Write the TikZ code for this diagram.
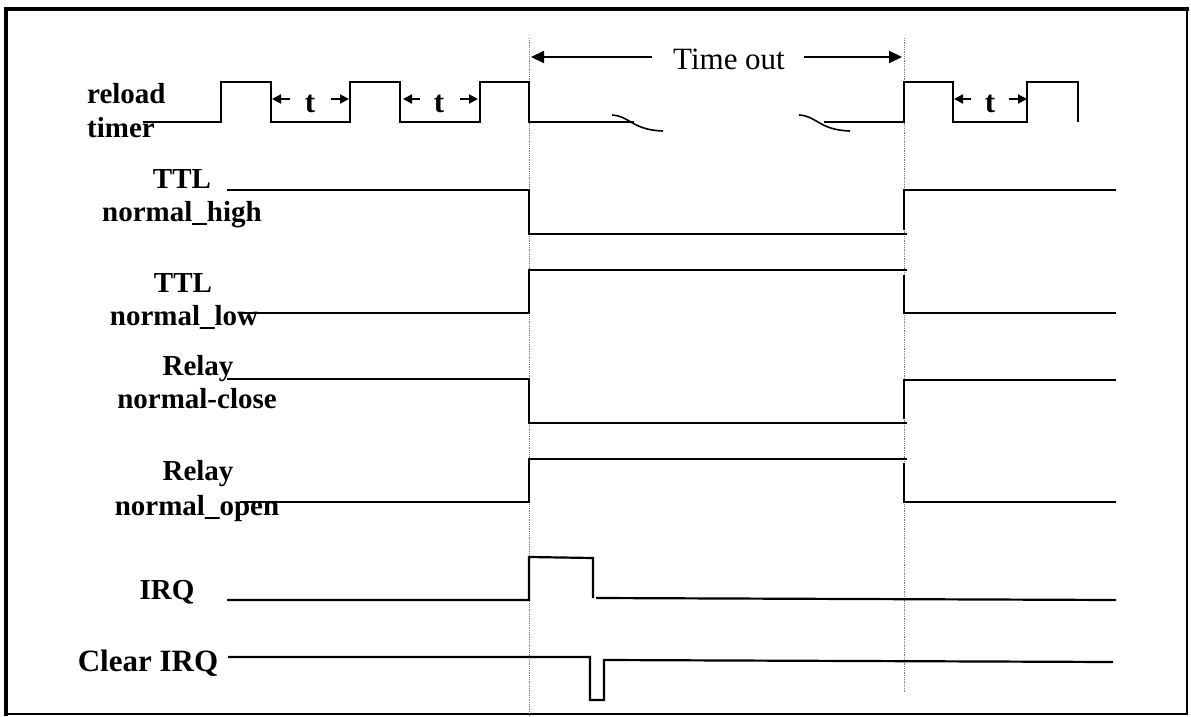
\documentclass[tikz,border=0pt]{standalone}
\usepackage{fontspec}
\setmainfont{Liberation Serif}
\usetikzlibrary{arrows.meta}
\begin{document}
\begin{tikzpicture}[x=1pt,y=-1pt,
  sig/.style={line width=2.2pt, line join=miter, line cap=butt},
  brk/.style={line width=1.6pt},
  gridline/.style={densely dotted, line width=0.8pt, gray},
  lbl/.style={font=\bfseries\fontsize{29}{34}\selectfont, anchor=base, inner sep=0pt},
  tlbl/.style={font=\bfseries\fontsize{31}{36}\selectfont, anchor=base, inner sep=0pt},
  bigarr/.style={line width=2pt, -{Triangle[length=13pt,width=12pt]}},
  tarr/.style={line width=2pt, -{Triangle[length=9pt,width=9pt]}}
]
\useasboundingbox (0,0) rectangle (1191,717);
\fill[white] (0,0) rectangle (1191,717);

% frame
\draw[line width=2pt] (1187,9) -- (1187,714) -- (6,714);
\draw[line width=4.5pt] (6,716) -- (6,9);
\draw[line width=3.5pt] (4,9) -- (1188.5,9);

% dotted guides
\coordinate (g1t) at (529,38); \coordinate (g1b) at (529,716);
\coordinate (g2t) at (904,38); \coordinate (g2b) at (904,692);
\draw[gridline] (g1t) -- (g1b);
\draw[gridline] (g2t) -- (g2b);

% Time out
\node[font=\fontsize{31}{36}\selectfont, anchor=base, inner sep=0pt] (to) at (729,70) {Time out};
\coordinate (toL0) at (652,57); \coordinate (toL1) at (531,57);
\coordinate (toR0) at (804,57); \coordinate (toR1) at (902,57);
\draw[bigarr] (toL0) -- (toL1);
\draw[bigarr] (toR0) -- (toR1);

% labels
\node[lbl, anchor=base west] (rl) at (87,103) {reload};
\node[lbl, anchor=base west] (tm) at (87,137) {timer};
\node[lbl] (ttl1) at (182,188) {TTL};
\node[lbl] (nh) at (182,221) {normal\_high};
\node[lbl] (ttl2) at (183,292) {TTL};
\node[lbl] (nl) at (184,325) {normal\_low};
\node[lbl] (rel1) at (198,375) {Relay};
\node[lbl] (nc) at (197,408) {normal-close};
\node[lbl] (rel2) at (198,480) {Relay};
\node[lbl] (no) at (197,515) {normal\_open};
\node[lbl] (irq) at (167,599) {IRQ};
\node[tlbl] (cirq) at (148,671) {Clear IRQ};

% reload timer
\draw[sig] (143,122) -- (221,122) -- (221,82) -- (271,82) -- (271,122) -- (350,122)
  -- (350,82) -- (400,82) -- (400,122) -- (480,122) -- (480,82) -- (529,82) -- (529,122) -- (634,122);
\draw[sig] (824,122) -- (904,122) -- (904,82) -- (953,82) -- (953,122) -- (1027,122)
  -- (1027,82) -- (1078,82) -- (1078,122);
\draw[brk] (612,115) .. controls (630,116) and (632,130) .. (663,131);
\draw[brk] (799,115) .. controls (817,116) and (819,130) .. (850,131);

% t markers
\coordinate (a1) at (290,99); \coordinate (a1t) at (272,99);
\coordinate (b1) at (331,99); \coordinate (b1t) at (349,99);
\draw[tarr] (a1) -- (a1t); \draw[tarr] (b1) -- (b1t);
\node[tlbl] (t1) at (310,112) {t};
\coordinate (a2) at (420,99); \coordinate (a2t) at (403,99);
\coordinate (b2) at (460,99); \coordinate (b2t) at (478,99);
\draw[tarr] (a2) -- (a2t); \draw[tarr] (b2) -- (b2t);
\node[tlbl] (t2) at (439,112) {t};
\coordinate (a3) at (971,99); \coordinate (a3t) at (954,99);
\coordinate (b3) at (1009,99); \coordinate (b3t) at (1027,99);
\draw[tarr] (a3) -- (a3t); \draw[tarr] (b3) -- (b3t);
\node[tlbl] (t3) at (990,112) {t};

% TTL normal_high
\draw[sig] (227,190) -- (529,190) -- (529,234) -- (907,234);
\draw[sig] (904,230) -- (904,190) -- (1116,190);
% TTL normal_low
\draw[sig] (240,313) -- (529,313) -- (529,270) -- (907,270);
\draw[sig] (904,275) -- (904,313) -- (1116,313);
% Relay normal-close
\draw[sig] (227,379) -- (529,379) -- (529,423) -- (907,423);
\draw[sig] (904,419) -- (904,380) -- (1116,380);
% Relay normal_open
\draw[sig] (240,502) -- (529,502) -- (529,459) -- (907,459);
\draw[sig] (904,463) -- (904,502) -- (1116,502);
% IRQ
\draw[sig] (227,600) -- (529,600) -- (529,557) -- (593,558) -- (593,598);
\draw[sig] (596,598) -- (1116,600);
% Clear IRQ
\draw[sig] (228,657) -- (590,657) -- (590,700) -- (604,700) -- (604,660) -- (1113,662);
\end{tikzpicture}
\end{document}
